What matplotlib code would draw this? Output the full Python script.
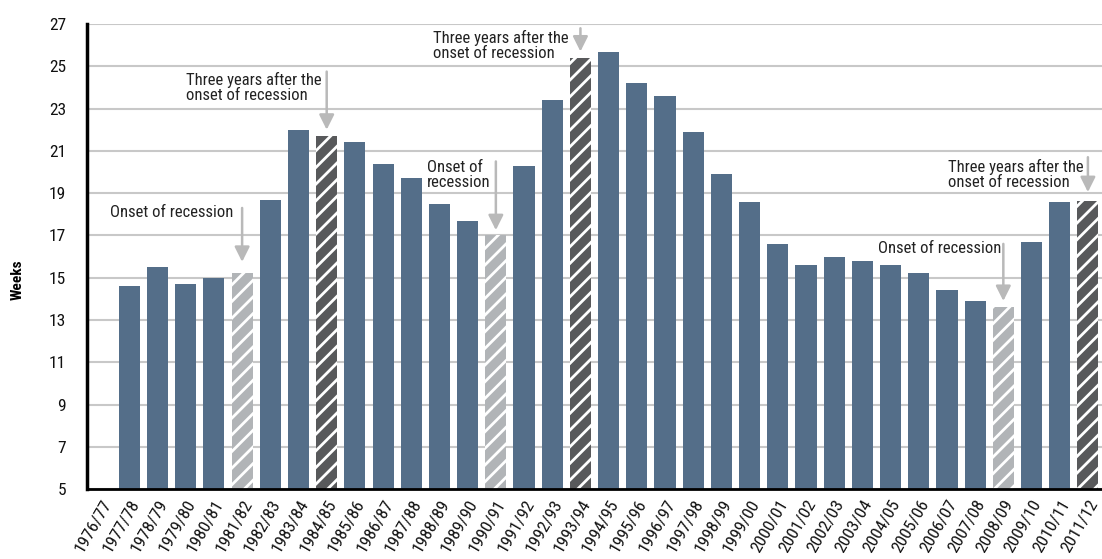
import matplotlib
matplotlib.use("Agg")
import matplotlib.pyplot as plt
from matplotlib import font_manager

# pick a condensed face if one is installed
names = {f.name for f in font_manager.fontManager.ttflist}
narrow = None
for n in ["Roboto Condensed", "Liberation Sans Narrow", "Open Sans Condensed",
          "DejaVu Sans Condensed", "Noto Sans Condensed"]:
    if n in names:
        narrow = n
        break
if narrow is None:
    narrow = "Liberation Sans"
plt.rcParams["font.family"] = [narrow, "DejaVu Sans"]
plt.rcParams["hatch.linewidth"] = 2.0

years = ["1976/77", "1977/78", "1978/79", "1979/80", "1980/81", "1981/82", "1982/83",
         "1983/84", "1984/85", "1985/86", "1986/87", "1987/88", "1988/89", "1989/90",
         "1990/91", "1991/92", "1992/93", "1993/94", "1994/95", "1995/96", "1996/97",
         "1997/98", "1998/99", "1999/00", "2000/01", "2001/02", "2002/03", "2003/04",
         "2004/05", "2005/06", "2006/07", "2007/08", "2008/09", "2009/10", "2010/11",
         "2011/12"]
weeks = [None, 14.6, 15.5, 14.7, 15.0, 15.2, 18.7, 22.0, 21.7, 21.4, 20.4, 19.7, 18.5,
         17.7, 17.0, 20.3, 23.4, 25.4, 25.7, 24.2, 23.6, 21.9, 19.9, 18.6, 16.6, 15.6,
         16.0, 15.8, 15.6, 15.2, 14.4, 13.9, 13.6, 16.7, 18.6, 18.65]
onset = ["1981/82", "1990/91", "2008/09"]
three_after = ["1984/85", "1993/94", "2011/12"]

# text, text x (left), text y (centre), bar year, arrow start y, arrow tip y
notes = [
    ("Onset of recession", 0.32, 18.08, "1981/82", 18.3, 15.75),
    ("Three years after the\nonset of recession", 3.0, 24.0, "1984/85", 24.75, 22.0),
    ("Onset of\nrecession", 11.56, 19.87, "1990/91", 20.5, 17.25),
    ("Three years after the\nonset of recession", 11.77, 25.97, "1993/94", 26.8, 25.7),
    ("Onset of recession", 27.55, 16.38, "2008/09", 16.6, 13.9),
    ("Three years after the\nonset of recession", 30.04, 19.9, "2011/12", 20.7, 19.05),
]

blue = "#546e89"
light = "#b1b4b7"
dark = "#58595b"

if narrow == "Liberation Sans":
    note_size, tick_size = 10.3, 11
else:
    note_size, tick_size = 12, 12.5

fig = plt.figure(figsize=(11.02, 5.59), dpi=100)
ax = fig.add_axes([0.079, 0.125, 0.921, 0.832])

for i, (yr, v) in enumerate(zip(years, weeks)):
    if v is None:
        continue
    if yr in onset:
        ax.bar(i, v - 5, bottom=5, width=0.75, color=light, edgecolor="white",
               linewidth=0, hatch="//", zorder=3)
    elif yr in three_after:
        ax.bar(i, v - 5, bottom=5, width=0.75, color=dark, edgecolor="white",
               linewidth=0, hatch="//", zorder=3)
    else:
        ax.bar(i, v - 5, bottom=5, width=0.75, color=blue, linewidth=0, zorder=3)

for txt, tx, ty, yr, y0, y1 in notes:
    xi = years.index(yr)
    ax.text(tx, ty, txt, ha="left", va="center", fontsize=note_size, color="#222222",
            linespacing=1.0, zorder=5)
    ax.annotate("", xy=(xi, y1), xytext=(xi, y0),
                arrowprops=dict(arrowstyle="-|>,head_length=0.9,head_width=0.45",
                                color="#b9b9b9", lw=1.8, shrinkA=0, shrinkB=0),
                zorder=5)

ax.set_xlim(-0.5, len(years) - 0.5)
ax.set_ylim(5, 27)
ax.set_yticks(range(5, 28, 2))
ax.set_xticks(range(len(years)))
ax.set_xticklabels(years, rotation=60, ha="right", rotation_mode="anchor")
ax.tick_params(axis="both", length=0, labelsize=tick_size, colors="#111111")
ax.tick_params(axis="y", pad=15)
ax.tick_params(axis="x", pad=6)
ax.yaxis.grid(True, color="#c8c8c8", linewidth=1.5, zorder=0)
ax.set_axisbelow(True)

for s in ["top", "right"]:
    ax.spines[s].set_visible(False)
ax.spines["left"].set_linewidth(2.5)
ax.spines["bottom"].set_linewidth(2.0)
ax.spines["left"].set_zorder(6)
ax.spines["bottom"].set_zorder(6)

fig.text(0.016, 0.5, "Weeks", rotation=90, ha="center", va="center",
         fontsize=11, fontweight="bold")

fig.savefig("out.png", dpi=100)
